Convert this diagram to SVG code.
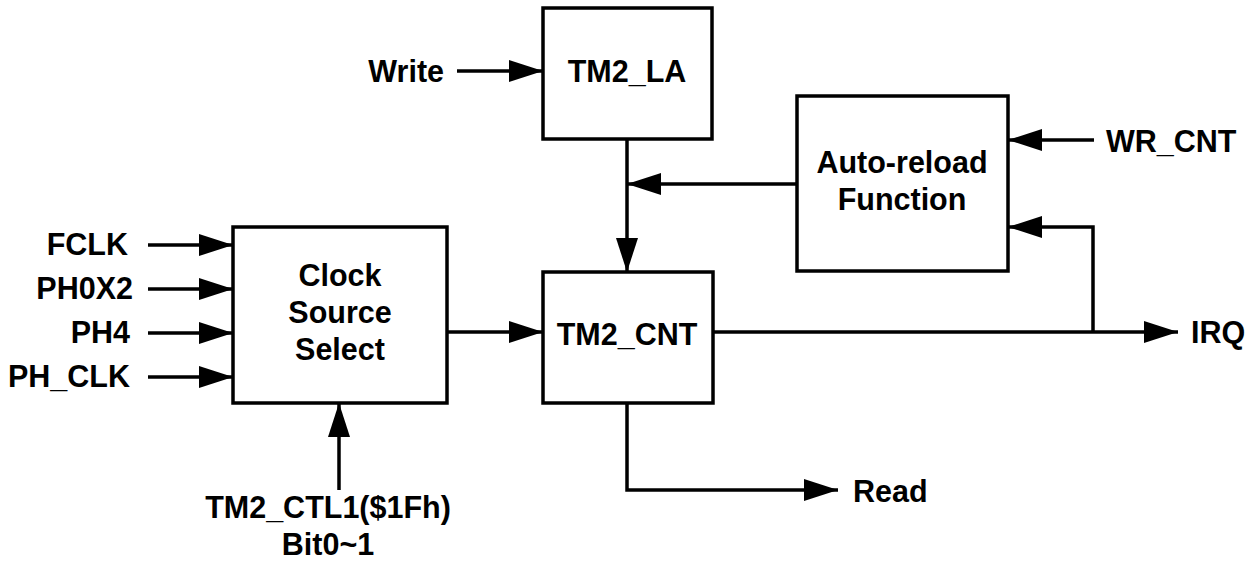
<svg xmlns="http://www.w3.org/2000/svg" width="1251" height="563" viewBox="0 0 1251 563">
<style>
.box{fill:#fff;stroke:#000;stroke-width:3.5}
.ln{fill:none;stroke:#000;stroke-width:3.5}
.t{font-family:"Liberation Sans",Arial,sans-serif;font-weight:bold;font-size:30.5px;fill:#000}
.m{text-anchor:middle}
.e{text-anchor:end}
</style>
<defs>
<marker id="ah" markerUnits="userSpaceOnUse" markerWidth="34" markerHeight="22" refX="34" refY="11" orient="auto">
<path d="M0,0 L34,11 L0,22 z" fill="#000"/>
</marker>
</defs>
<rect width="1251" height="563" fill="#fff"/>
<g id="connectors">
<line class="ln" x1="148" y1="245" x2="233" y2="245" marker-end="url(#ah)"/>
<line class="ln" x1="148" y1="289" x2="233" y2="289" marker-end="url(#ah)"/>
<line class="ln" x1="148" y1="333" x2="233" y2="333" marker-end="url(#ah)"/>
<line class="ln" x1="148" y1="377" x2="233" y2="377" marker-end="url(#ah)"/>
<line class="ln" x1="457" y1="71" x2="543" y2="71" marker-end="url(#ah)"/>
<line class="ln" x1="627" y1="139" x2="627" y2="272" marker-end="url(#ah)"/>
<line class="ln" x1="797" y1="184" x2="627" y2="184" marker-end="url(#ah)"/>
<line class="ln" x1="447" y1="332" x2="543" y2="332" marker-end="url(#ah)"/>
<line class="ln" x1="1094" y1="140" x2="1008" y2="140" marker-end="url(#ah)"/>
<polyline class="ln" points="1093,332 1093,227 1008,227" marker-end="url(#ah)"/>
<line class="ln" x1="713" y1="332" x2="1178" y2="332" marker-end="url(#ah)"/>
<polyline class="ln" points="627,403 627,490 838,490" marker-end="url(#ah)"/>
<line class="ln" x1="339" y1="490" x2="339" y2="403" marker-end="url(#ah)"/>
</g>
<g id="clock">
<rect class="box" x="233" y="227" width="214" height="176"/>
<text class="t m" x="340" y="286">Clock</text>
<text class="t m" x="340" y="323">Source</text>
<text class="t m" x="340" y="360">Select</text>
</g>
<g id="tm2la">
<rect class="box" x="543" y="8" width="169" height="131"/>
<text class="t m" x="627" y="82">TM2_LA</text>
</g>
<g id="tm2cnt">
<rect class="box" x="543" y="272" width="170" height="131"/>
<text class="t m" x="627" y="345">TM2_CNT</text>
</g>
<g id="autoreload">
<rect class="box" x="797" y="96" width="211" height="175"/>
<text class="t m" x="902" y="173">Auto-reload</text>
<text class="t m" x="902" y="210">Function</text>
</g>
<g id="labels">
<text class="t e" x="128" y="255">FCLK</text>
<text class="t e" x="133" y="299">PH0X2</text>
<text class="t e" x="130" y="343">PH4</text>
<text class="t e" x="130" y="387">PH_CLK</text>
<text class="t e" x="444" y="82">Write</text>
<text class="t" x="1106" y="152">WR_CNT</text>
<text class="t" x="1191" y="343">IRQ</text>
<text class="t" x="853" y="502">Read</text>
<text class="t m" x="328" y="518">TM2_CTL1($1Fh)</text>
<text class="t m" x="328" y="555">Bit0~1</text>
</g>
</svg>
